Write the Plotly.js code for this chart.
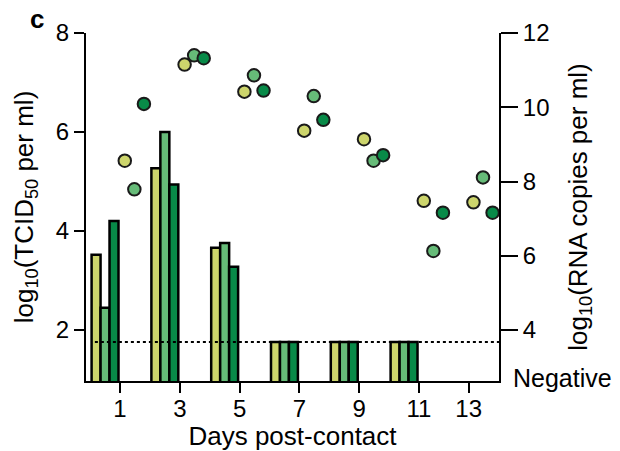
<!DOCTYPE html>
<html>
<head>
<meta charset="utf-8">
<script src="https://cdn.plot.ly/plotly-3.0.1.min.js"></script>
<style>
  html, body { margin: 0; padding: 0; background: #fff; }
  #chart { width: 620px; height: 451px; }
</style>
</head>
<body>
<div id="chart"></div>
<script>
// Sampling days (post-contact)
const barDays = [1, 3, 5, 7, 9, 11];
const rnaDays = [1, 3, 5, 7, 9, 11, 13];
const dayTicks = [1, 3, 5, 7, 9, 11, 13];

// Infectious titre, log10(TCID50 per ml), one series per animal
const tcidA = [3.52, 5.27, 3.66, 1.76, 1.76, 1.76];
const tcidB = [2.45, 6.00, 3.76, 1.76, 1.76, 1.76];
const tcidC = [4.20, 4.94, 3.28, 1.76, 1.76, 1.76];

// Viral RNA, log10(RNA copies per ml), one series per animal
const rnaA = [8.56, 11.15, 10.42, 9.37, 9.14, 7.48, 7.44];
const rnaB = [7.79, 11.40, 10.86, 10.30, 8.56, 6.13, 8.11];
const rnaC = [10.09, 11.32, 10.45, 9.66, 8.71, 7.16, 7.16];

// Detection limit of the titration assay
const detectionLimit = 1.76;

const leftTicks = [2, 4, 6, 8];
const rightTicks = [4, 6, 8, 10, 12];

const colors = ['#cdd56c', '#66bb78', '#088a48'];
const FONT = 'Liberation Sans, Arial, Helvetica, sans-serif';
const TICK_SIZE = 24;
const TITLE_SIZE = 26;

// The day axis is compressed after day 11
const axisPos = d => (d <= 11 ? d : 11 + (d - 11) * 0.83);

const barWidth = 0.3;
const barOffsets = [-0.95, -0.65, -0.35];
const pointJitter = [0.16, 0.48, 0.8];

const traces = [];
[tcidA, tcidB, tcidC].forEach((vals, i) => {
  traces.push({
    type: 'bar',
    x: barDays.map(axisPos),
    y: vals,
    width: barDays.map(() => barWidth),
    offset: barDays.map(() => barOffsets[i]),
    marker: { color: colors[i], line: { color: '#000', width: 2.5 } },
    xaxis: 'x', yaxis: 'y',
    hoverinfo: 'skip'
  });
});
[rnaA, rnaB, rnaC].forEach((vals, i) => {
  traces.push({
    type: 'scatter',
    mode: 'markers',
    x: rnaDays.map(d => axisPos(d) + pointJitter[i]),
    y: vals,
    marker: { color: colors[i], size: 12.5, line: { color: '#1a1a1a', width: 2 } },
    xaxis: 'x', yaxis: 'y2',
    cliponaxis: false,
    hoverinfo: 'skip'
  });
});

const axisCommon = {
  showgrid: false, zeroline: false, showline: true,
  linecolor: '#000', linewidth: 2,
  ticks: 'outside', tickcolor: '#000', tickwidth: 2,
  tickfont: { family: FONT, size: TICK_SIZE, color: '#000' }
};

const layout = {
  width: 620, height: 451,
  margin: { l: 86, r: 121, t: 33, b: 70, pad: 0 },
  paper_bgcolor: '#fff', plot_bgcolor: '#fff',
  showlegend: false,
  barmode: 'overlay',
  font: { family: FONT, color: '#000' },
  xaxis: Object.assign({}, axisCommon, {
    range: [-0.137, 13.675],
    tickvals: dayTicks.map(axisPos),
    ticktext: dayTicks.map(String),
    ticklen: 10,
    ticklabelstandoff: -5,
    title: { text: 'Days post-contact', font: { family: FONT, size: TITLE_SIZE, color: '#000' }, standoff: 10 }
  }),
  yaxis: Object.assign({}, axisCommon, {
    range: [0.97, 8],
    tickvals: leftTicks,
    ticktext: leftTicks.map(String),
    ticklen: 10,
    title: { text: 'log<sub>10</sub>(TCID<sub>50</sub> per ml)', font: { family: FONT, size: TITLE_SIZE, color: '#000' }, standoff: 15 }
  }),
  yaxis2: Object.assign({}, axisCommon, {
    overlaying: 'y', side: 'right',
    range: [2.626, 12],
    tickvals: rightTicks,
    ticktext: rightTicks.map(String),
    ticklen: 17,
    title: { text: 'log<sub>10</sub>(RNA copies per ml)', font: { family: FONT, size: TITLE_SIZE, color: '#000' }, standoff: 20 }
  }),
  shapes: [{
    type: 'line', xref: 'x', yref: 'y',
    x0: 0.16, x1: 13.72, y0: detectionLimit, y1: detectionLimit,
    line: { color: '#000', width: 2, dash: 'dot' }
  }],
  annotations: [
    {
      text: '<b>c</b>', xref: 'paper', yref: 'paper',
      x: -0.119, y: 1.04, xanchor: 'center', yanchor: 'middle',
      showarrow: false, font: { family: FONT, size: 26, color: '#000' }
    },
    {
      text: 'Negative', xref: 'paper', yref: 'paper',
      x: 1.03, y: 0.009, xanchor: 'left', yanchor: 'middle',
      showarrow: false, font: { family: FONT, size: 25, color: '#000' }
    }
  ]
};

Plotly.newPlot('chart', traces, layout, { staticPlot: true, displayModeBar: false });
</script>
</body>
</html>
